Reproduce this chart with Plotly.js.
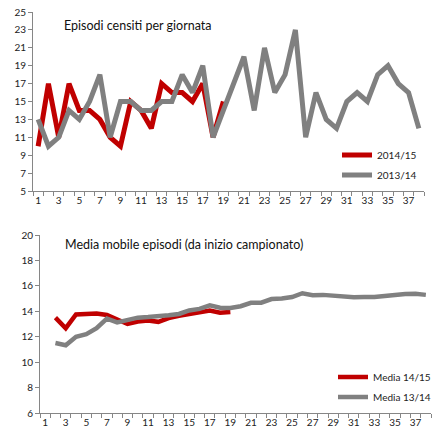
<!DOCTYPE html>
<html>
<head>
<meta charset="utf-8">
<script src="https://cdn.plot.ly/plotly-3.0.1.min.js"></script>
<style>html,body{margin:0;padding:0;background:#fff;}#chart{width:437px;height:442px;}</style>
</head>
<body>
<div id="chart"></div>
<script>
// Data
var giornate = [1,2,3,4,5,6,7,8,9,10,11,12,13,14,15,16,17,18,19,20,21,22,23,24,25,26,27,28,29,30,31,32,33,34,35,36,37,38];
var episodi1415 = [10,17,11,17,14,14,13,11,10,15,14,12,17,16,16,15,17,11,15];
var episodi1314 = [13,10,11,14,13,15,18,11,15,15,14,14,15,15,18,16,19,11,14,17,20,14,21,16,18,23,11,16,13,12,15,16,15,18,19,17,16,12];
var giornateMedia = [2,3,4,5,6,7,8,9,10,11,12,13,14,15,16,17,18,19,20,21,22,23,24,25,26,27,28,29,30,31,32,33,34,35,36,37,38];
var media1415 = [13.5,12.67,13.75,13.8,13.83,13.71,13.38,13.0,13.2,13.27,13.17,13.46,13.64,13.8,13.88,14.06,13.89,13.95];
var media1314 = [11.5,11.33,12.0,12.2,12.67,13.43,13.13,13.33,13.5,13.55,13.58,13.69,13.79,14.07,14.19,14.47,14.28,14.26,14.4,14.67,14.68,14.96,15.0,15.12,15.42,15.26,15.29,15.21,15.1,15.1,15.13,15.12,15.21,15.31,15.36,15.38,15.29];
var oddTicks = [1,3,5,7,9,11,13,15,17,19,21,23,25,27,29,31,33,35,37];
var title1 = 'Episodi censiti per giornata';
var title2 = 'Media mobile episodi (da inizio campionato)';
var names = ['2014/15','2013/14','Media 14/15','Media 13/14'];

var RED = '#C00000', GREY = '#808080';
var FONT = 'Lato, "Open Sans", sans-serif';

// red series drawn first, grey on top (as in the reference)
var traces = [
  {x: giornate.slice(0, episodi1415.length), y: episodi1415, name: names[0], type: 'scatter', mode: 'lines',
   line: {color: RED, width: 5}, xaxis: 'x', yaxis: 'y', legend: 'legend'},
  {x: giornate, y: episodi1314, name: names[1], type: 'scatter', mode: 'lines',
   line: {color: GREY, width: 5}, xaxis: 'x', yaxis: 'y', legend: 'legend2'},
  {x: giornateMedia.slice(0, media1415.length), y: media1415, name: names[2], type: 'scatter', mode: 'lines',
   line: {color: RED, width: 4.5}, xaxis: 'x2', yaxis: 'y2', legend: 'legend3'},
  {x: giornateMedia, y: media1314, name: names[3], type: 'scatter', mode: 'lines',
   line: {color: GREY, width: 4.5}, xaxis: 'x2', yaxis: 'y2', legend: 'legend4'}
];

var W = 437, H = 442;
function px(v){return v / W;}
function py(v){return 1 - v / H;}

var axisCommon = {
  showgrid: false, zeroline: false, showline: true, linecolor: '#868686', linewidth: 1,
  tickfont: {family: FONT, size: 10, color: '#222'}, automargin: false, fixedrange: true
};

function xAx(l, r, anchor) {
  return Object.assign({}, axisCommon, {
    domain: [px(l), px(r)], anchor: anchor, range: [0.5, 38.5],
    tickmode: 'array', tickvals: oddTicks, ticktext: oddTicks.map(String),
    ticks: '', ticklen: 0,
    minor: {tickmode: 'linear', tick0: 0.5, dtick: 1, ticks: 'outside', ticklen: 4, tickcolor: '#868686', tickwidth: 1, showgrid: false}
  });
}
function yAx(t, b, anchor, lo, hi) {
  return Object.assign({}, axisCommon, {
    domain: [py(b), py(t)], anchor: anchor, range: [lo, hi],
    tickmode: 'linear', tick0: lo, dtick: 2, ticks: 'outside', ticklen: 4, tickcolor: '#868686'
  });
}

function leg(x, y) {
  return {x: px(x), y: py(y), xanchor: 'left', yanchor: 'middle', bgcolor: 'rgba(0,0,0,0)',
          font: {family: FONT, size: 10, color: '#222'}, itemwidth: 30, tracegroupgap: 0};
}

var layout = {
  width: W, height: H, margin: {l: 0, r: 0, t: 0, b: 0},
  paper_bgcolor: '#fff', plot_bgcolor: '#fff', showlegend: true,
  xaxis: xAx(33, 424, 'y'),
  yaxis: yAx(12, 191, 'x', 5, 25),
  xaxis2: xAx(40, 431, 'y2'),
  yaxis2: yAx(235, 413, 'x2', 6, 20),
  legend: leg(337, 155),
  legend2: leg(337, 175),
  legend3: leg(333, 377),
  legend4: leg(333, 397),
  annotations: [
    {text: title1, xref: 'paper', yref: 'paper', x: px(62), y: py(25), xanchor: 'left', yanchor: 'middle',
     showarrow: false, font: {family: FONT, size: 12.5, color: '#111'}},
    {text: title2, xref: 'paper', yref: 'paper', x: px(63), y: py(244), xanchor: 'left', yanchor: 'middle',
     showarrow: false, font: {family: FONT, size: 12.5, color: '#111'}}
  ]
};

Plotly.newPlot('chart', traces, layout, {displayModeBar: false, staticPlot: true});
</script>
</body>
</html>
